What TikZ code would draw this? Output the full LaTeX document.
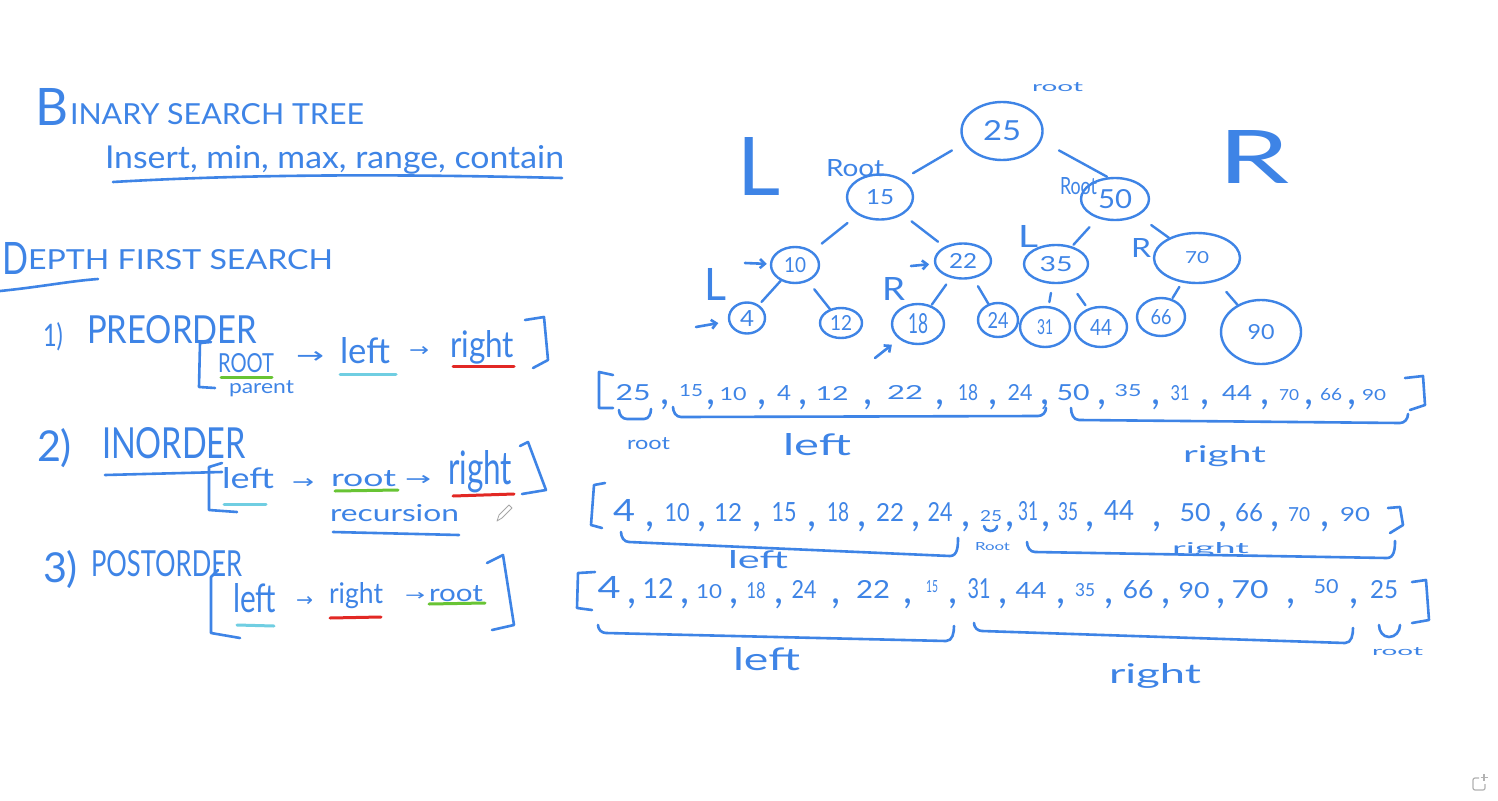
\documentclass[tikz,border=0pt]{standalone}
\usepackage{fontspec}
\setmainfont{Lato}
\newfontfamily\symfont{DejaVu Sans}
\usetikzlibrary{shapes.geometric,arrows.meta}
\definecolor{ink}{RGB}{62,132,230}
\definecolor{hlgreen}{RGB}{104,196,52}
\definecolor{hlcyan}{RGB}{112,206,226}
\definecolor{hlred}{RGB}{226,40,36}
\newcommand\hwtxt[3]{\resizebox{#1pt}{#2pt}{#3}}
\begin{document}
\begin{tikzpicture}[x=1pt,y=-1pt,
  txt/.style={inner sep=0pt, outer sep=0pt, anchor=base west, text=ink, font=\fontsize{30}{36}\selectfont},
  arr/.style={txt, font=\symfont\fontsize{30}{36}\selectfont},
  num/.style={inner sep=0pt, outer sep=0pt, anchor=base, text=ink, font=\fontsize{30}{36}\selectfont},
  cma/.style={inner sep=0pt, outer sep=0pt, anchor=base, text=ink, font=\fontsize{40}{44}\selectfont},
  tn/.style={ellipse, draw=ink, line width=2.4pt, inner sep=0pt, text=ink, font=\fontsize{30}{36}\selectfont},
  edge/.style={draw=ink, line width=2.4pt, line cap=round},
  inkline/.style={draw=ink, line width=2.6pt, line cap=round, line join=round},
  hl/.style={line width=3pt, line cap=round},
  harrow/.style={inkline, -{Straight Barb[length=5pt,width=9pt]}}
]
\fill[white] (0,0) rectangle (1498,800);
\useasboundingbox (0,0) rectangle (1498,800);

% ---------- left column ----------
\node[txt] (tB) at (35,125) {\hwtxt{33}{37}{B}};
\node[txt] (tTitle) at (70,124) {\hwtxt{294}{21}{INARY SEARCH TREE}};
\node[txt] (tOps) at (105,168) {\hwtxt{459}{23}{Insert, min, max, range, contain}};
\draw[inkline] (113,182) .. controls (250,174) and (400,174) .. (562,178);

\node[txt] (tD) at (2,274) {\hwtxt{26}{32}{D}};
\node[txt] (tDFS) at (28,269) {\hwtxt{305}{20}{EPTH FIRST SEARCH}};
\draw[inkline] (0,291) .. controls (40,287) and (70,281) .. (98,279);

% 1) preorder
\node[txt] (t1) at (43,346) {\hwtxt{20}{24}{1)}};
\node[txt] (tPre) at (87,343) {\hwtxt{170}{28}{PREORDER}};
\draw[inkline] (211,342) -- (200,343) -- (199,387) -- (215,388);
\node[txt] (tRoot1) at (218,372) {\hwtxt{56}{19}{ROOT}};
\node[arr] (tA1a) at (296,363) {\hwtxt{28}{12}{→}};
\node[txt] (tLeft1) at (340,363) {\hwtxt{50}{26}{left}};
\node[arr] (tA1b) at (409,356) {\hwtxt{20}{10}{→}};
\node[txt] (tRight1) at (450,357) {\hwtxt{64}{27}{right}};
\draw[inkline] (525,320) -- (544,317) -- (548,360) -- (533,368);
\node[txt] (tParent) at (229,393) {\hwtxt{65}{13}{parent}};
\draw[hl, hlgreen] (221,377) -- (272,377);
\draw[hl, hlcyan] (340,374) -- (396,374);
\draw[hl, hlred] (453,366) -- (514,366);

% 2) inorder
\node[txt] (t2) at (37,461) {\hwtxt{35}{33}{2)}};
\node[txt] (tIn) at (102,458) {\hwtxt{144}{31}{INORDER}};
\draw[inkline] (105,475) -- (222,472);
\draw[inkline] (222,463) -- (209,467) -- (209,510) -- (237,512);
\node[txt] (tLeft2) at (222,488) {\hwtxt{52}{21}{left}};
\node[arr] (tA2a) at (292,488) {\hwtxt{22}{10}{→}};
\node[txt] (tRoot2) at (331,486) {\hwtxt{65}{16}{root}};
\node[arr] (tA2b) at (405,485) {\hwtxt{26}{10}{→}};
\node[txt] (tRight2) at (448,484) {\hwtxt{64}{34}{right}};
\draw[inkline] (520,446) -- (528,442) -- (546,490) -- (522,494);
\node[txt] (tRec) at (330,521) {\hwtxt{129}{17}{recursion}};
\draw[inkline] (333,532) -- (459,535);
\draw[hl, hlcyan] (224,504) -- (266,504);
\draw[hl, hlgreen] (335,491) -- (398,490);
\draw[hl, hlred] (453,496) -- (514,494);
% pencil cursor
\draw[gray!70, line width=0.8pt, line join=round] (497,521) -- (499,515) -- (509,505) -- (512,508) -- (502,518) -- cycle;

% 3) postorder
\node[txt] (t3) at (43,582) {\hwtxt{35}{32}{3)}};
\node[txt] (tPost) at (91,576) {\hwtxt{151}{26}{POSTORDER}};
\draw[inkline] (218,570) -- (211,577) -- (211,633) -- (240,638);
\node[txt] (tLeft3) at (233,612) {\hwtxt{43}{29}{left}};
\node[arr] (tA3a) at (296,606) {\hwtxt{17}{10}{→}};
\node[txt] (tRight3) at (329,603) {\hwtxt{54}{21}{right}};
\node[arr] (tA3b) at (405,600) {\hwtxt{20}{8}{→}};
\node[txt] (tRoot3) at (429,601) {\hwtxt{54}{16}{root}};
\draw[inkline] (487,563) -- (503,555) -- (514,625) -- (492,630);
\draw[hl, hlcyan] (237,625) -- (274,626);
\draw[hl, hlred] (330,618) -- (381,617);
\draw[hl, hlgreen] (429,604) -- (485,603);

% ---------- tree ----------
\node[tn, minimum width=81, minimum height=58] (n25) at (1002,131) {\hwtxt{38}{20}{25}};
\node[tn, minimum width=66, minimum height=45] (n15) at (880,197) {\hwtxt{28}{15}{15}};
\node[tn, minimum width=68, minimum height=42] (n50) at (1115,199) {\hwtxt{34}{19}{50}};
\node[tn, minimum width=48, minimum height=36] (n10) at (795,265) {\hwtxt{22}{15}{10}};
\node[tn, minimum width=56, minimum height=35] (n22) at (963,261) {\hwtxt{28}{15}{22}};
\node[tn, minimum width=64, minimum height=38] (n35) at (1056,264) {\hwtxt{33}{15}{35}};
\node[tn, minimum width=86, minimum height=50] (n70) at (1197,258) {\hwtxt{24}{12}{70}};
\node[tn, minimum width=36, minimum height=31] (n4) at (747,318) {\hwtxt{14}{16}{4}};
\node[tn, minimum width=42, minimum height=30] (n12) at (841,323) {\hwtxt{22}{15}{12}};
\node[tn, minimum width=52, minimum height=40] (n18) at (918,324) {\hwtxt{20}{20}{18}};
\node[tn, minimum width=40, minimum height=34] (n24) at (998,320) {\hwtxt{21}{16}{24}};
\node[tn, minimum width=50, minimum height=40] (n31) at (1045,327) {\hwtxt{16}{15}{31}};
\node[tn, minimum width=52, minimum height=40] (n44) at (1101,327) {\hwtxt{22}{16}{44}};
\node[tn, minimum width=48, minimum height=38] (n66) at (1161,317) {\hwtxt{21}{15}{66}};
\node[tn, minimum width=80, minimum height=64] (n90) at (1261,332) {\hwtxt{27}{15}{90}};

\draw[edge, shorten <=14pt, shorten >=12pt] (n25.198) -- (n15.38);
\draw[edge, shorten <=20pt, shorten >=1pt] (n25.346) -- (n50.108);
\foreach \a/\b/\s/\e in {15/10/13/12, 15/22/11/8, 50/35/12/2, 50/70/16/0,
  10/4/0/4, 10/12/10/0, 22/18/8/1, 22/24/9/0, 35/31/9/4, 35/44/14/4, 70/66/5/1, 70/90/14/0}
  \draw[edge, shorten <=\s pt, shorten >=\e pt] (n\a) -- (n\b);

\node[txt] (tRootT) at (1032,91) {\hwtxt{51}{9}{root}};
\node[txt] (tRoot15) at (826,176) {\hwtxt{58}{17}{Root}};
\node[txt] (tRoot50) at (1060,194) {\hwtxt{37}{17}{Root}};
\node[txt] (tBigL) at (737,195) {\hwtxt{43}{58}{L}};
\node[txt] (tBigR) at (1218,183) {\hwtxt{71}{53}{R}};
\node[txt] (tL4) at (704,300) {\hwtxt{22}{32}{L}};
\node[txt] (tR18) at (882,300) {\hwtxt{23}{23}{R}};
\node[txt] (tL35) at (1018,247) {\hwtxt{20}{22}{L}};
\node[txt] (tR70) at (1131,257) {\hwtxt{20}{19}{R}};

\coordinate (a10) at (745,263);
\coordinate (a4) at (696,327);
\coordinate (a22) at (911,266);
\coordinate (a18) at (875,358);
\draw[harrow, shorten >=3pt] (a10) -- (n10);
\draw[harrow, shorten >=10pt] (a4) -- (n4);
\draw[harrow, shorten >=5pt] (a22) -- (n22);
\draw[harrow, shorten >=9pt] (a18) -- (n18);

% ---------- sequences ----------
% row 1 (preorder)
\draw[inkline] (613,375) -- (599,372) -- (599,408) -- (613,408);
\foreach \x/\y/\w/\h/\t [count=\i] in {633/400/35/16/25, 691/396/24/12/15, 733/400/27/13/10, 784/400/14/15/4,
  832/400/33/14/12, 905/399/36/14/22, 968/400/20/16/18, 1020/400/25/16/24, 1073/400/33/16/50,
  1128/396/27/12/35, 1180/400/19/15/31, 1237/400/30/15/44, 1289/400/20/11/70, 1331/400/22/12/66, 1374/400/24/11/90}
  \node[num] (sa\i) at (\x,\y) {\hwtxt{\w}{\h}{\t}};
\foreach \x [count=\i] in {665,711,762,803,868,940,993,1045,1102,1156,1205,1265,1309,1352}
  \node[cma] (ca\i) at (\x,404) {,};
\draw[inkline] (1405,378) -- (1423,376) -- (1425,405) -- (1410,410);
\draw[inkline] (619,410) to[out=-90,in=180] (627,419) -- (644,419) to[out=0,in=-90] (651,409);
\draw[inkline] (673,407) to[out=-90,in=180] (681,417) -- (1038,416) to[out=0,in=-90] (1046,408);
\draw[inkline] (1071,408) to[out=-90,in=180] (1079,420) -- (1400,423) to[out=0,in=-90] (1408,414);
\node[txt] (r1root) at (627,449) {\hwtxt{43}{12}{root}};
\node[txt] (r1left) at (783,455) {\hwtxt{68}{22}{left}};
\node[txt] (r1right) at (1183,462) {\hwtxt{83}{17}{right}};

% row 2 (inorder)
\draw[inkline] (605,483) -- (594,485) -- (591,525) -- (602,528);
\foreach \x/\y/\w/\h/\t [count=\i] in {624/521/22/22/4, 677/521/25/18/10, 728/521/28/18/12, 784/521/25/19/15,
  838/521/22/19/18, 890/521/28/18/22, 940/521/25/19/24, 991/521/22/11/25, 1028/520/20/19/31,
  1068/520/20/18/35, 1119/520/30/20/44, 1195/521/31/18/50, 1249/521/28/18/66, 1299/521/22/14/70, 1355/521/30/14/90}
  \node[num] (sb\i) at (\x,\y) {\hwtxt{\w}{\h}{\t}};
\foreach \x [count=\i] in {650,702,757,812,862,916,966,1010,1046,1090,1157,1223,1275,1325}
  \node[cma] (cb\i) at (\x,526) {,};
\draw[inkline] (1388,508) -- (1400,507) -- (1403,525) -- (1390,533);
\draw[inkline] (621,532) to[out=-90,in=180] (629,542) -- (950,556) to[out=0,in=-90] (958,538);
\draw[inkline] (984,526) to[out=-90,in=180] (990,531) to[out=0,in=-90] (997,526);
\draw[inkline] (1027,542) to[out=-90,in=180] (1035,552) -- (1387,558) to[out=0,in=-90] (1395,541);
\node[txt] (r2left) at (728,568) {\hwtxt{60}{18}{left}};
\node[txt] (r2root) at (975,550) {\hwtxt{35}{8}{Root}};
\node[txt] (r2right) at (1172,553) {\hwtxt{77}{11}{right}};

% row 3 (postorder)
\draw[inkline] (595,572) -- (578,573) -- (577,608) -- (592,610);
\foreach \x/\y/\w/\h/\t [count=\i] in {609/598/23/22/4, 658/598/31/20/12, 709/598/26/14/10, 756/598/19/16/18,
  804/598/25/18/24, 873/598/34/18/22, 932/592/12/12/15, 979/598/23/20/31, 1031/598/31/16/44,
  1085/596/20/13/35, 1138/598/31/18/66, 1194/598/31/16/90, 1250/598/37/18/70, 1326/593/25/14/50, 1384/598/28/18/25}
  \node[num] (sc\i) at (\x,\y) {\hwtxt{\w}{\h}{\t}};
\foreach \x [count=\i] in {632,685,734,779,836,908,953,1003,1061,1109,1166,1221,1291,1354}
  \node[cma] (cc\i) at (\x,603) {,};
\draw[inkline] (1412,582) -- (1426,580) -- (1429,620) -- (1412,623);
\draw[inkline] (598,625) to[out=-90,in=180] (606,633) -- (946,641) to[out=0,in=-90] (954,626);
\draw[inkline] (974,623) to[out=-90,in=180] (982,631) -- (1345,643) to[out=0,in=-90] (1353,628);
\draw[inkline] (1379,625) to[out=-90,in=180] (1389,637) to[out=0,in=-90] (1400,625);
\node[txt] (r3left) at (733,670) {\hwtxt{67}{23}{left}};
\node[txt] (r3right) at (1109,683) {\hwtxt{92}{20}{right}};
\node[txt] (r3root) at (1372,655) {\hwtxt{51}{8}{root}};

% corner icon
\draw[gray!60, line width=1.2pt, rounded corners=2pt] (1479,778) -- (1473,778) -- (1473,790) -- (1485,790) -- (1485,784);
\draw[gray!60, line width=1.2pt] (1484,774) -- (1484,781) (1480.5,777.5) -- (1487.5,777.5);
\end{tikzpicture}
\end{document}
